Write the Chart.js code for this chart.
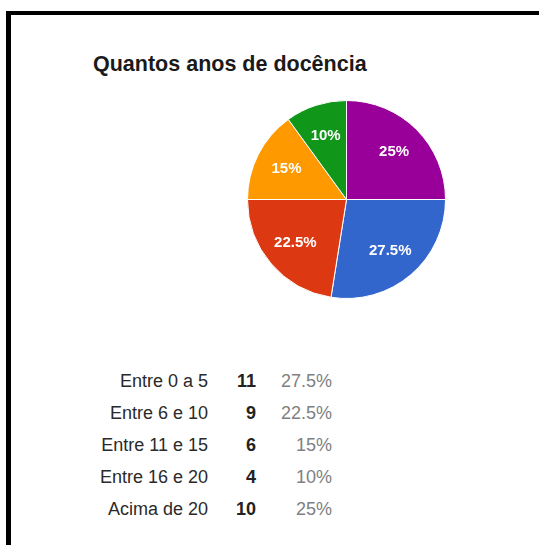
<!DOCTYPE html>
<html>
<head>
<meta charset="utf-8">
<script src="https://cdn.jsdelivr.net/npm/chart.js@4"></script>
<style>
  html, body { margin:0; padding:0; background:#fff; width:539px; height:545px; overflow:hidden; }
  body { position:relative; font-family: Arial, "Liberation Sans", sans-serif; }
  #frame { position:absolute; left:6px; top:11px; width:600px; height:600px; border-top:4px solid #000; border-left:5px solid #000; }
  #title { position:absolute; left:93px; top:52px; font-weight:bold; font-size:21.5px; line-height:24px; color:#1a1a1a; white-space:nowrap; }
  #pieBox { position:absolute; left:247px; top:100px; width:199px; height:199px; }
  #table { position:absolute; top:365px; left:0; font-size:18px; line-height:32px; }
  .row { position:relative; height:32px; }
  .row span { position:absolute; top:0; white-space:nowrap; }
  .lab { right:calc(100% - 208px); color:#2a2a2a; }
  .num { right:calc(100% - 256px); color:#222; font-weight:bold; }
  .pct { right:calc(100% - 332px); color:#808080; }
</style>
</head>
<body>
<div id="frame"></div>
<div id="title"></div>
<div id="pieBox"><canvas id="c" width="199" height="199"></canvas></div>
<div id="table" style="width:539px"></div>
<script>
const titleText = 'Quantos anos de docência';
const categories = ['Entre 0 a 5', 'Entre 6 e 10', 'Entre 11 e 15', 'Entre 16 e 20', 'Acima de 20'];
const counts = [11, 9, 6, 4, 10];
const colors = ['#3366CC', '#DC3912', '#FF9900', '#109618', '#990099'];

const total = counts.reduce((a, b) => a + b, 0);
const pctText = v => {
  const p = v / total * 100;
  return (Math.round(p * 10) / 10).toString() + '%';
};

document.getElementById('title').textContent = titleText;

const table = document.getElementById('table');
categories.forEach((cat, i) => {
  const row = document.createElement('div');
  row.className = 'row';
  const a = document.createElement('span'); a.className = 'lab'; a.textContent = cat;
  const b = document.createElement('span'); b.className = 'num'; b.textContent = counts[i];
  const c = document.createElement('span'); c.className = 'pct'; c.textContent = pctText(counts[i]);
  row.append(a, b, c);
  table.appendChild(row);
});

const sliceLabels = {
  id: 'sliceLabels',
  afterDatasetsDraw(chart) {
    const ctx = chart.ctx;
    const meta = chart.getDatasetMeta(0);
    ctx.save();
    ctx.fillStyle = '#ffffff';
    ctx.font = 'bold 15px Arial, "Liberation Sans", sans-serif';
    ctx.textAlign = 'center';
    ctx.textBaseline = 'middle';
    meta.data.forEach((arc, i) => {
      const p = arc.getProps(['x', 'y', 'startAngle', 'endAngle', 'outerRadius'], true);
      const mid = (p.startAngle + p.endAngle) / 2;
      const r = p.outerRadius * 0.68;
      ctx.fillText(pctText(counts[i]), p.x + Math.cos(mid) * r, p.y + Math.sin(mid) * r);
    });
    ctx.restore();
  }
};

new Chart(document.getElementById('c'), {
  type: 'pie',
  data: {
    labels: categories,
    datasets: [{
      data: counts,
      backgroundColor: colors,
      borderColor: '#ffffff',
      borderWidth: 1
    }]
  },
  options: {
    responsive: false,
    animation: false,
    rotation: 90,
    layout: { padding: 0 },
    plugins: {
      legend: { display: false },
      tooltip: { enabled: false },
      title: { display: false }
    }
  },
  plugins: [sliceLabels]
});
</script>
</body>
</html>
